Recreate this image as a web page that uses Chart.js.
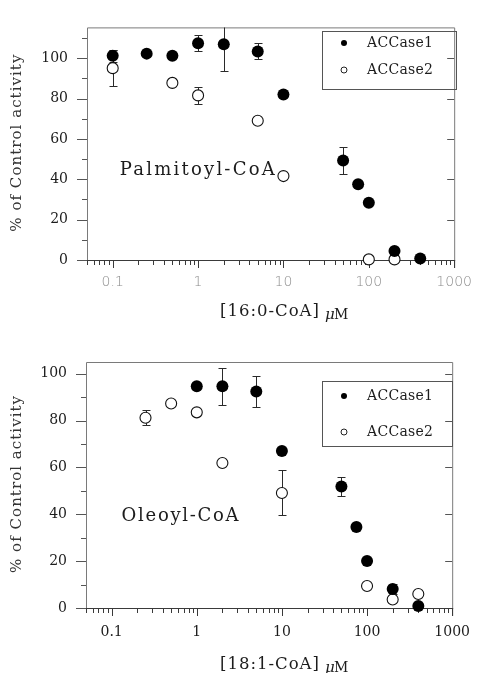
<!DOCTYPE html>
<html><head><meta charset="utf-8">
<script src="https://cdn.jsdelivr.net/npm/chart.js@4.4.1/dist/chart.umd.min.js"></script>
<style>
html,body{margin:0;padding:0;background:#fff;}
#wrap{position:relative;width:486px;height:673px;overflow:hidden;}
.pane{position:absolute;left:0;width:486px;}
canvas{display:block;}
</style></head><body>
<div id="wrap">
<div class="pane" style="top:0;height:330px"><canvas id="topc" width="486" height="330"></canvas></div>
<div class="pane" style="top:330px;height:343px"><canvas id="botc" width="486" height="343"></canvas></div>
</div>
<script>
// ---------- data ----------
const seriesNames = ['ACCase1', 'ACCase2'];
const xTickValues = [0.1, 1, 10, 100, 1000];
const xTickLabels = ['0.1', '1', '10', '100', '1000'];
const yTickValues = [0, 20, 40, 60, 80, 100];

// Palmitoyl-CoA (16:0-CoA)
const palmConc1 = [0.1, 0.25, 0.5, 1, 2, 5, 10, 50, 75, 100, 200, 400];
const palmAct1  = [101.2, 102.3, 101.3, 107.4, 107.0, 103.4, 82.0, 49.3, 37.5, 28.4, 4.5, 0.8];
const palmErr1  = [3, null, null, 4, 13.5, 4, null, 6.5, null, null, null, null];
const palmConc2 = [0.1, 0.5, 1, 5, 10, 100, 200];
const palmAct2  = [95.1, 87.8, 81.6, 69.0, 41.6, 0.3, 0.3];
const palmErr2  = [9, null, 4.2, null, null, null, null];

// Oleoyl-CoA (18:1-CoA)
const oleConc1 = [1, 2, 5, 10, 50, 75, 100, 200, 400];
const oleAct1  = [94.6, 94.6, 92.4, 67.0, 51.9, 34.6, 20.1, 8.1, 0.9];
const oleErr1  = [null, 8, 6.8, null, 4, null, null, 2, null];
const oleConc2 = [0.25, 0.5, 1, 2, 10, 100, 200, 400];
const oleAct2  = [81.2, 87.3, 83.5, 61.9, 49.1, 9.4, 3.6, 6.0];
const oleErr2  = [3.2, null, null, null, 9.6, null, null, null];

// ---------- helpers ----------
const SERIF = '"DejaVu Serif", "Liberation Serif", serif';
const INK = '#1c1c1c';
const FRAME = '#7a7a7a';
const AXIS = '#3a3a3a';

function spacedText(ctx, text, x, y, width) {
  ctx.letterSpacing = '0px';
  const w = ctx.measureText(text).width;
  const sp = text.length > 1 ? (width - w) / (text.length - 1) : 0;
  ctx.letterSpacing = sp.toFixed(2) + 'px';
  ctx.fillText(text, x, y);
  ctx.letterSpacing = '0px';
}

function pts(xs, ys) { return xs.map((x, i) => ({x: x, y: ys[i]})); }

function makePanel(canvasId, opt) {
  const panelPlugin = {
    id: 'panel_' + canvasId,
    beforeDatasetsDraw(chart) {
      const ctx = chart.ctx, a = chart.chartArea;
      const xs = chart.scales.x, ys = chart.scales.y;
      ctx.save();
      ctx.lineWidth = 1;
      // frame: left, top, right
      ctx.strokeStyle = FRAME;
      ctx.beginPath();
      ctx.moveTo(a.left + 0.5, a.bottom);
      ctx.lineTo(a.left + 0.5, a.top + 0.5);
      ctx.lineTo(a.right + 0.5, a.top + 0.5);
      ctx.lineTo(a.right + 0.5, a.bottom + 8);
      ctx.stroke();
      // x axis line
      ctx.strokeStyle = AXIS;
      ctx.beginPath();
      ctx.moveTo(a.left, Math.round(a.bottom) + 0.5);
      ctx.lineTo(a.right + 1, Math.round(a.bottom) + 0.5);
      ctx.stroke();
      // y ticks (left outward major+minor, right inward major)
      ctx.strokeStyle = '#555';
      ctx.beginPath();
      for (let v = 0; v <= ys.max + 1e-9; v += 10) {
        const py = Math.round(ys.getPixelForValue(v)) + 0.5;
        const major = v % 20 === 0;
        ctx.moveTo(a.left - (major ? 10 : 5), py);
        ctx.lineTo(a.left, py);
        if (major && v > 0) {
          ctx.moveTo(a.right - 7, py);
          ctx.lineTo(a.right, py);
        }
      }
      ctx.stroke();
      // x ticks (log major + minor, outward)
      ctx.strokeStyle = AXIS;
      ctx.beginPath();
      for (let d = -2; d <= 3; d++) {
        for (let m = 1; m <= 9; m++) {
          const v = m * Math.pow(10, d);
          if (v < xs.min * 0.999 || v > xs.max * 1.001) continue;
          const px = Math.round(xs.getPixelForValue(v)) + 0.5;
          ctx.moveTo(px, a.bottom);
          ctx.lineTo(px, a.bottom + (m === 1 ? 8 : 5));
        }
      }
      ctx.stroke();
      // error bars
      ctx.beginPath();
      ctx.rect(a.left, a.top, a.right - a.left, a.bottom - a.top + 10);
      ctx.clip();
      ctx.strokeStyle = '#2a2a2a';
      ctx.beginPath();
      opt.errors.forEach((errs, di) => {
        const ds = chart.data.datasets[di];
        ds.data.forEach((p, j) => {
          const e = errs[j];
          if (!e) return;
          const px = Math.round(xs.getPixelForValue(p.x)) + 0.5;
          const y1 = Math.round(ys.getPixelForValue(p.y + e)) + 0.5;
          const y2 = Math.round(ys.getPixelForValue(p.y - e)) + 0.5;
          ctx.moveTo(px, y1); ctx.lineTo(px, y2);
          ctx.moveTo(px - 4, y1); ctx.lineTo(px + 4, y1);
          ctx.moveTo(px - 4, y2); ctx.lineTo(px + 4, y2);
        });
      });
      ctx.stroke();
      ctx.restore();
    },
    afterDraw(chart) {
      const ctx = chart.ctx, a = chart.chartArea;
      const xs = chart.scales.x, ys = chart.scales.y;
      ctx.save();
      ctx.fillStyle = INK;
      ctx.textBaseline = 'middle';
      ctx.textAlign = 'left';
      // y title
      ctx.save();
      ctx.translate(17, (a.top + a.bottom) / 2);
      ctx.rotate(-Math.PI / 2);
      ctx.font = '15px ' + SERIF;
      ctx.fillStyle = '#333';
      spacedText(ctx, '% of Control activity', -88, 0, 177);
      ctx.restore();
      // x title
      ctx.font = '16.5px ' + SERIF;
      spacedText(ctx, opt.xTitle, opt.xTitlePos[0], opt.xTitlePos[1], 99);
      ctx.font = 'italic 15px ' + SERIF;
      ctx.fillText('\u03bc', opt.xTitlePos[0] + 105, opt.xTitlePos[1] + 3);
      ctx.font = '14px ' + SERIF;
      ctx.fillText('M', opt.xTitlePos[0] + 114, opt.xTitlePos[1] + 3);
      // annotation
      ctx.font = '18px ' + SERIF;
      spacedText(ctx, opt.label, xs.getPixelForValue(opt.labelAt[0]), ys.getPixelForValue(opt.labelAt[1]), opt.labelWidth);
      // legend
      const L = opt.legend;
      ctx.strokeStyle = '#555';
      ctx.lineWidth = 1;
      ctx.strokeRect(L.x + 0.5, L.y + 0.5, L.w, L.h);
      ctx.font = '14px ' + SERIF;
      seriesNames.forEach((name, i) => {
        const cy = L.rows[i];
        ctx.beginPath();
        ctx.arc(L.x + 22, cy, 3, 0, Math.PI * 2);
        if (i === 0) { ctx.fillStyle = '#000'; ctx.fill(); }
        else { ctx.strokeStyle = '#222'; ctx.stroke(); }
        ctx.fillStyle = INK;
        spacedText(ctx, chart.data.datasets[i].label, L.x + 45, cy, 66);
      });
      ctx.restore();
    }
  };

  return new Chart(document.getElementById(canvasId), {
    type: 'scatter',
    data: {
      datasets: [
        { label: seriesNames[0], data: pts(opt.x1, opt.y1), pointRadius: 6, pointHoverRadius: 6,
          pointBackgroundColor: '#000', pointBorderColor: '#000', pointBorderWidth: 0, clip: false },
        { label: seriesNames[1], data: pts(opt.x2, opt.y2), pointRadius: 5.5, pointHoverRadius: 5.5,
          pointBackgroundColor: '#fff', pointBorderColor: '#111', pointBorderWidth: 1.1, clip: false }
      ]
    },
    options: {
      responsive: false,
      devicePixelRatio: 1,
      animation: false,
      events: [],
      layout: { padding: { left: 0, right: opt.padRight, top: opt.padTop, bottom: 0 } },
      plugins: { legend: { display: false }, tooltip: { enabled: false } },
      scales: {
        x: {
          type: 'logarithmic', min: 0.05, max: 1000,
          grid: { display: false, drawTicks: false }, border: { display: false },
          afterBuildTicks: s => { s.ticks = xTickValues.map(v => ({ value: v })); },
          afterFit: s => { s.height = opt.xAxisH; },
          ticks: {
            autoSkip: false, maxRotation: 0, padding: opt.xLabelPad,
            color: opt.xTickColor, font: opt.xTickFont,
            callback: (v, i) => xTickLabels[i]
          }
        },
        y: {
          type: 'linear', min: 0, max: opt.yMax,
          grid: { display: false, drawTicks: false }, border: { display: false },
          afterBuildTicks: s => { s.ticks = yTickValues.map(v => ({ value: v })); },
          afterFit: s => { s.width = opt.yAxisW; },
          ticks: { padding: 19, color: INK, font: { family: SERIF, size: 14 } }
        }
      }
    },
    plugins: [panelPlugin]
  });
}

makePanel('topc', {
  x1: palmConc1, y1: palmAct1, x2: palmConc2, y2: palmAct2, errors: [palmErr1, palmErr2],
  yMax: 115.3, padTop: 15, padRight: 19, yAxisW: 87, xAxisH: 70, xLabelPad: 14,
  xTickColor: '#8c8c8c', xTickFont: { family: '"DejaVu Sans", sans-serif', size: 14, weight: 300 },
  xTitle: '[16:0-CoA]', xTitlePos: [220, 312],
  label: 'Palmitoyl-CoA', labelAt: [0.121, 44.4], labelWidth: 155,
  legend: { x: 322, y: 31, w: 134, h: 58, rows: [43, 70] }
});

makePanel('botc', {
  x1: oleConc1, y1: oleAct1, x2: oleConc2, y2: oleAct2, errors: [oleErr1, oleErr2],
  yMax: 105, padTop: 32, padRight: 20, yAxisW: 86, xAxisH: 65, xLabelPad: 16,
  xTickColor: INK, xTickFont: { family: SERIF, size: 14 },
  xTitle: '[18:1-CoA]', xTitlePos: [220, 335],
  label: 'Oleoyl-CoA', labelAt: [0.131, 39], labelWidth: 117,
  legend: { x: 322, y: 51, w: 130, h: 65, rows: [66, 102] }
});
</script>
</body></html>
